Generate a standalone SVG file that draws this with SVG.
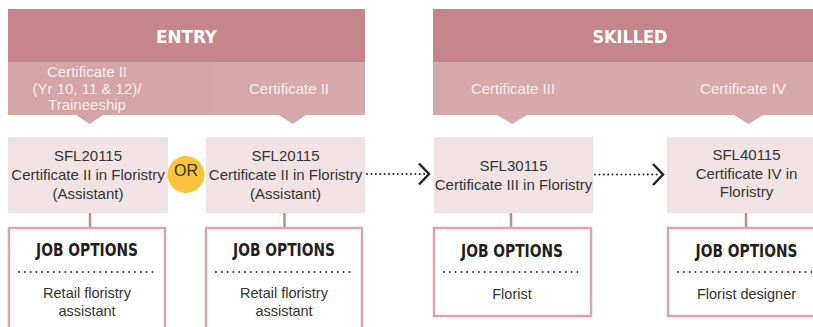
<svg xmlns="http://www.w3.org/2000/svg" width="813" height="327" viewBox="0 0 813 327">
<style>
.hdr{fill:#c5858b}
.sub{fill:#d5a9ac}
.subL{fill:#d3a4a8}
.card{fill:#f1e3e3}
.job{fill:#fff;stroke:#d7a7ab;stroke-width:2.5}
.htxt{font-family:"DejaVu Sans",sans-serif;font-weight:bold;font-stretch:condensed;font-size:18px;fill:#fff;text-anchor:middle}
.stxt{font-family:"Liberation Sans",Arial,sans-serif;font-size:15px;fill:#f7eced;text-anchor:middle}
.ctxt{font-family:"Liberation Sans",Arial,sans-serif;font-size:15px;fill:#333;text-anchor:middle}
.jtitle{font-family:"DejaVu Sans",sans-serif;font-weight:bold;font-stretch:condensed;font-size:17px;fill:#231f20;text-anchor:middle}
.jtxt{font-family:"Liberation Sans",Arial,sans-serif;font-size:14.5px;fill:#333;text-anchor:middle}
.jdot{stroke:#333;stroke-width:2;stroke-linecap:round;stroke-dasharray:0 5.8;fill:none}
.adot{stroke:#222;stroke-width:2;stroke-linecap:round;stroke-dasharray:0 4.4;fill:none}
.chev{stroke:#222;stroke-width:2.5;fill:none}
.vline{stroke:#c8878d;stroke-width:2.5}
</style>

<g id="entry-header">
<rect class="hdr" x="8" y="9" width="357" height="53"/>
<text class="htxt" x="186.5" y="43" textLength="61" lengthAdjust="spacingAndGlyphs">ENTRY</text>
</g>
<g id="entry-cert2-trainee">
<rect class="subL" x="8" y="62" width="206" height="53"/>
<polygon class="subL" points="76,115 103,115 89.5,124"/>
<text class="stxt" x="87" y="77">Certificate II</text>
<text class="stxt" x="87" y="93.5">(Yr 10, 11 &amp; 12)/</text>
<text class="stxt" x="87" y="110">Traineeship</text>
</g>
<g id="entry-cert2">
<rect class="sub" x="214" y="62" width="151" height="53"/>
<polygon class="sub" points="279,115 306,115 292.5,124"/>
<text class="stxt" x="289" y="94">Certificate II</text>
</g>

<g id="skilled-header">
<rect class="hdr" x="433" y="9" width="380" height="53"/>
<text class="htxt" x="630" y="43" textLength="75" lengthAdjust="spacingAndGlyphs">SKILLED</text>
</g>
<g id="skilled-cert3">
<rect class="sub" x="433" y="62" width="190" height="53"/>
<polygon class="sub" points="497,115 527,115 512,124"/>
<text class="stxt" x="513" y="94">Certificate III</text>
</g>
<g id="skilled-cert4">
<rect class="sub" x="623" y="62" width="190" height="53"/>
<polygon class="sub" points="734,115 763,115 748.5,124"/>
<text class="stxt" x="743" y="94">Certificate IV</text>
</g>

<g id="connectors">
<line class="vline" x1="90" y1="213" x2="90" y2="228"/>
<line class="vline" x1="284.5" y1="213" x2="284.5" y2="228"/>
<line class="vline" x1="511" y1="213" x2="511" y2="228"/>
<line class="vline" x1="746" y1="213" x2="746" y2="228"/>
<line class="adot" x1="367" y1="174" x2="426" y2="174"/>
<polyline class="chev" points="419,163.5 429,174 419,184.5"/>
<line class="adot" x1="595" y1="174.5" x2="660" y2="174.5"/>
<polyline class="chev" points="653,164 663,174.5 653,185"/>
</g>

<g id="card-sfl20115-a">
<rect class="card" x="8" y="137" width="160" height="76"/>
<text class="ctxt" x="88" y="161">SFL20115</text>
<text class="ctxt" x="88" y="180">Certificate II in Floristry</text>
<text class="ctxt" x="88" y="198.5">(Assistant)</text>
</g>
<g id="or-badge">
<circle cx="186" cy="174.5" r="18.5" fill="#fcc43e"/>
<text class="ctxt" x="186" y="176" style="font-size:16px">OR</text>
</g>
<g id="card-sfl20115-b">
<rect class="card" x="206" y="137" width="159" height="76"/>
<text class="ctxt" x="285.5" y="161">SFL20115</text>
<text class="ctxt" x="285.5" y="180">Certificate II in Floristry</text>
<text class="ctxt" x="285.5" y="198.5">(Assistant)</text>
</g>
<g id="card-sfl30115">
<rect class="card" x="434" y="137" width="159" height="76"/>
<text class="ctxt" x="513.5" y="171">SFL30115</text>
<text class="ctxt" x="513.5" y="189.5">Certificate III in Floristry</text>
</g>
<g id="card-sfl40115">
<rect class="card" x="667" y="137" width="160" height="76"/>
<text class="ctxt" x="746.5" y="160">SFL40115</text>
<text class="ctxt" x="746.5" y="178.5">Certificate IV in</text>
<text class="ctxt" x="746.5" y="197">Floristry</text>
</g>

<g id="job-1">
<rect class="job" x="9" y="228" width="156" height="110"/>
<text class="jtitle" x="87" y="256" textLength="102" lengthAdjust="spacingAndGlyphs">JOB OPTIONS</text>
<line class="jdot" x1="19" y1="272" x2="157" y2="272"/>
<text class="jtxt" x="87" y="298">Retail floristry</text>
<text class="jtxt" x="87" y="316">assistant</text>
</g>
<g id="job-2">
<rect class="job" x="206" y="228" width="156" height="110"/>
<text class="jtitle" x="284" y="256" textLength="102" lengthAdjust="spacingAndGlyphs">JOB OPTIONS</text>
<line class="jdot" x1="216" y1="272" x2="354" y2="272"/>
<text class="jtxt" x="284" y="298">Retail floristry</text>
<text class="jtxt" x="284" y="316">assistant</text>
</g>
<g id="job-3">
<rect class="job" x="434" y="228" width="157" height="88"/>
<text class="jtitle" x="512" y="257" textLength="102" lengthAdjust="spacingAndGlyphs">JOB OPTIONS</text>
<line class="jdot" x1="444" y1="272" x2="583" y2="272"/>
<text class="jtxt" x="512" y="299">Florist</text>
</g>
<g id="job-4">
<rect class="job" x="668" y="228" width="158" height="88"/>
<text class="jtitle" x="746.5" y="257" textLength="102" lengthAdjust="spacingAndGlyphs">JOB OPTIONS</text>
<line class="jdot" x1="678" y1="272" x2="817" y2="272"/>
<text class="jtxt" x="746.5" y="299">Florist designer</text>
</g>
</svg>
